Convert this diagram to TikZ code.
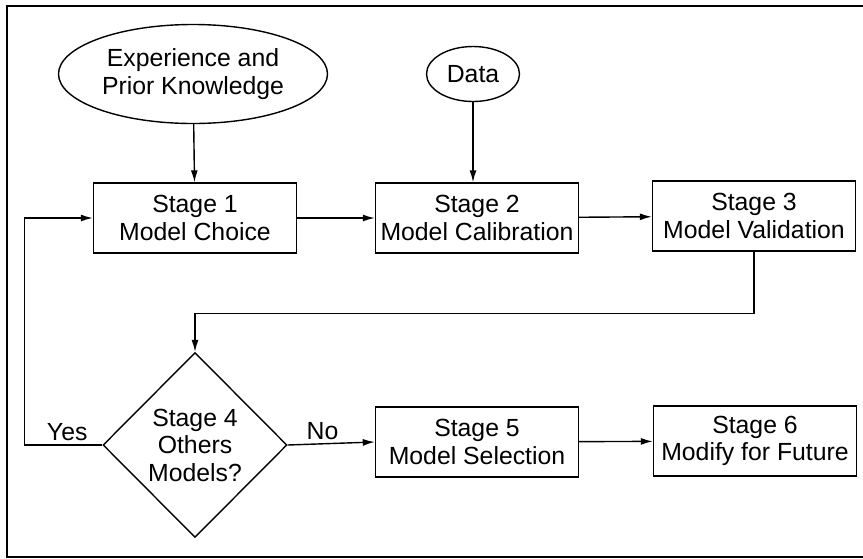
\documentclass[tikz,border=0pt]{standalone}
\usepackage{fontspec}
\setmainfont{Liberation Sans}
\usepackage{tikz}
\usetikzlibrary{shapes.geometric,arrows.meta,positioning}

\begin{document}
\begin{tikzpicture}[x=1pt, y=-1pt, line width=1.4pt, >={Latex[length=12pt,width=7pt]},
    stagebox/.style={rectangle,draw,minimum width=203pt,minimum height=70pt,inner sep=0pt,align=center},
    inputell/.style={ellipse,draw,inner sep=0pt,align=center},
    every node/.style={font=\fontsize{24.8}{27.5}\selectfont}]
   \useasboundingbox (0,0) rectangle (863,558);
   % frame, open on the right
   \draw (863,6) -- (7,6) -- (7,557) -- (863,557);
   \begin{scope}
    \node (exp) [inputell,minimum width=269pt,minimum height=99pt] at (193,74) {Experience and\\Prior Knowledge};
    \node (data) [inputell,minimum width=93pt,minimum height=55pt] at (473,74) {Data};
    \node (s1) [stagebox] at (195,218) {Stage 1\\Model Choice};
    \node (s2) [stagebox] at (477,218) {Stage 2\\Model Calibration};
    \node (s3) [stagebox] at (754,216) {Stage 3\\Model Validation};
    \node (s4) [diamond,draw,aspect=1,inner sep=0pt,minimum width=184pt,minimum height=185pt,align=center] at (195,445) {Stage 4\\Others\\Models?};
    \node (s5) [stagebox] at (477,442) {Stage 5\\Model Selection};
    \node (s6) [stagebox] at (755,441) {Stage 6\\Modify for Future};
   \end{scope}
   \begin{scope}[->]
    \draw (exp) -- (s1);
    \draw (data) -- (s2.north -| data);
    \draw (s1) -- (s2);
    \draw (s2) -- (s3);
    \draw (s3.south) -- ++(0,62) -| (s4.north);
    \draw (s4.west) -- node[above,pos=0.45]{Yes} ++(-78,0) |- (s1.west);
    \draw (s4.east) -- node[above,pos=0.4]{No} (s5.west);
    \draw (s5) -- (s6);
   \end{scope}
\end{tikzpicture}
\end{document}
